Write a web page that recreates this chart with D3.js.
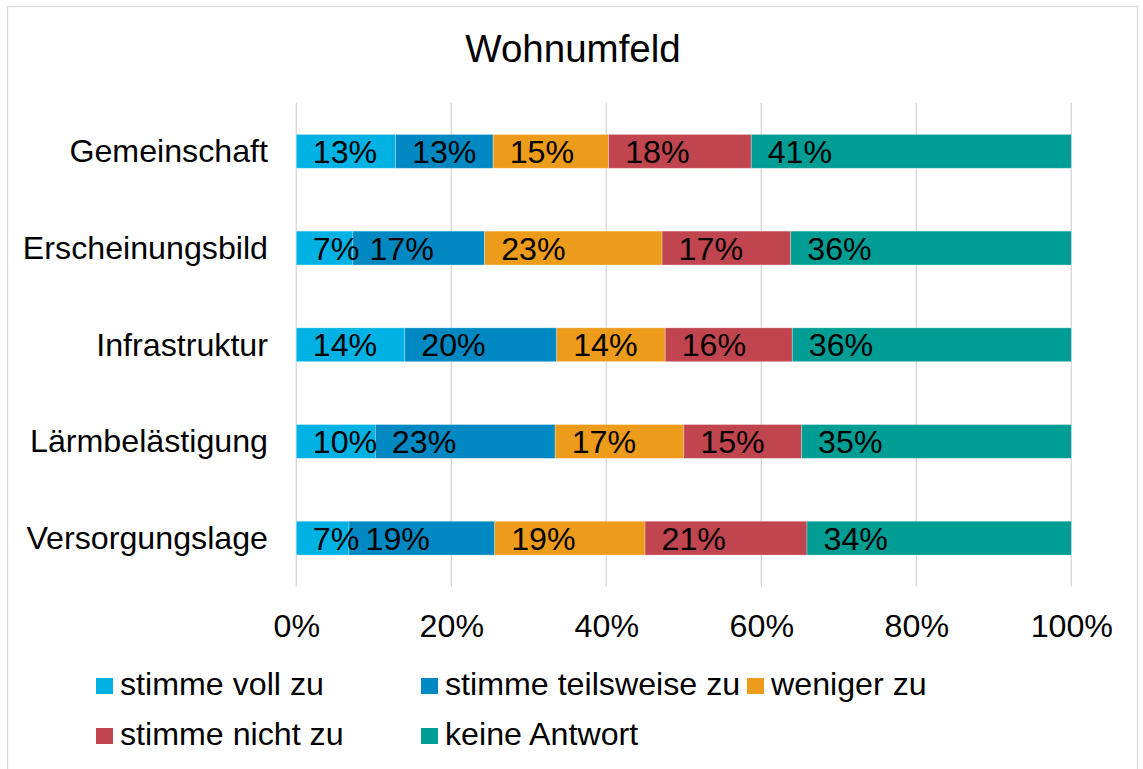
<!DOCTYPE html>
<html lang="de">
<head>
<meta charset="utf-8">
<title>Wohnumfeld</title>
<script src="https://cdn.jsdelivr.net/npm/d3@7"></script>
<style>
  html, body { margin: 0; padding: 0; background: #ffffff; }
  svg { display: block; font-family: "Liberation Sans", Arial, sans-serif; }
</style>
</head>
<body>
<svg id="chart" width="1143" height="769"></svg>
<script>
// Survey categories (top to bottom)
const categories = ["Gemeinschaft", "Erscheinungsbild", "Infrastruktur", "Lärmbelästigung", "Versorgungslage"];

// Answer options, in stacking order
const seriesNames = ["stimme voll zu", "stimme teilsweise zu", "weniger zu", "stimme nicht zu", "keine Antwort"];

// Share of answers per category, in percent
const stimmeVoll      = [12.8,  7.3, 14.0, 10.2,  6.8];
const stimmeTeilweise = [12.6, 17.0, 19.6, 23.2, 18.8];
const wenigerZu       = [14.9, 22.9, 14.0, 16.6, 19.4];
const stimmeNicht     = [18.4, 16.6, 16.4, 15.2, 20.9];
const keineAntwort    = [41.3, 36.2, 36.0, 34.8, 34.1];

// Axis ticks
const tickValues = [0, 20, 40, 60, 80, 100];
const tickLabels = ["0%", "20%", "40%", "60%", "80%", "100%"];

const colors = ["#00b2e3", "#0088c2", "#ec9b1a", "#c0454f", "#009d94"];

const seriesValues = [stimmeVoll, stimmeTeilweise, wenigerZu, stimmeNicht, keineAntwort];
const rows = categories.map((c, i) => {
  const r = { category: c };
  seriesNames.forEach((s, k) => { r[s] = seriesValues[k][i]; });
  return r;
});

const svg = d3.select("#chart");
const fontSize = 32.2;

// Outer frame
svg.append("rect")
  .attr("x", 7.5).attr("y", 6.5)
  .attr("width", 1130).attr("height", 800)
  .attr("fill", "#ffffff")
  .attr("stroke", "#d9d9d9").attr("stroke-width", 1.3);

// Title
svg.append("text")
  .attr("x", 573).attr("y", 61.5)
  .attr("text-anchor", "middle")
  .attr("font-size", 38.5)
  .attr("fill", "#000")
  .text("Wohnumfeld");

const x = d3.scaleLinear().domain([0, 100]).range([296.3, 1071.3]);
const y = d3.scaleBand().domain(categories).range([103, 586.5])
  .paddingInner(0.65).paddingOuter(0.325);

// Vertical gridlines
const grid = svg.append("g").attr("class", "grid");
grid.selectAll("line").data(tickValues).join("line")
  .attr("x1", d => x(d)).attr("x2", d => x(d))
  .attr("y1", 103).attr("y2", 586.5)
  .attr("stroke", "#d9d9d9").attr("stroke-width", 1.4);

// Stacked bars
const stack = d3.stack().keys(seriesNames);
const layers = stack(rows);

const layerG = svg.append("g").selectAll("g").data(layers).join("g")
  .attr("fill", (d, i) => colors[i]);

layerG.selectAll("rect").data(d => d).join("rect")
  .attr("x", d => x(d[0]))
  .attr("y", d => y(d.data.category))
  .attr("width", d => x(d[1]) - x(d[0]))
  .attr("height", y.bandwidth())
  .attr("stroke", "#ffffff").attr("stroke-opacity", 0.35).attr("stroke-width", 0.8);

// Value labels at the inside base of each segment
const fmt = d3.format(".0f");
const labelG = svg.append("g").selectAll("g").data(layers).join("g");
labelG.selectAll("text").data(d => d.map(p => ({ p, key: d.key }))).join("text")
  .attr("x", d => x(d.p[0]) + 16.5)
  .attr("y", d => y(d.p.data.category) + y.bandwidth() / 2)
  .attr("dy", "0.36em")
  .attr("font-size", fontSize)
  .attr("fill", "#000")
  .text(d => fmt(d.p.data[d.key]) + "%");

// Category labels
svg.append("g").selectAll("text").data(categories).join("text")
  .attr("x", 268)
  .attr("y", d => y(d) + y.bandwidth() / 2)
  .attr("dy", "0.34em")
  .attr("text-anchor", "end")
  .attr("font-size", fontSize)
  .attr("fill", "#000")
  .text(d => d);

// X axis tick labels
const xAxis = d3.axisBottom(x)
  .tickValues(tickValues)
  .tickFormat((d, i) => tickLabels[i])
  .tickSize(0).tickPadding(0);
const axisG = svg.append("g").attr("transform", "translate(0,614)").call(xAxis);
axisG.select(".domain").remove();
axisG.selectAll("text")
  .attr("font-size", fontSize)
  .attr("font-family", "'Liberation Sans', Arial, sans-serif")
  .attr("fill", "#000")
  .attr("y", 0).attr("dy", "0.72em");

// Legend (three columns, wrapping)
const legendX = [96, 421, 747];
const legendBase = [695, 745];
const legend = svg.append("g").selectAll("g").data(seriesNames).join("g")
  .attr("transform", (d, i) => `translate(${legendX[i % 3]},${legendBase[Math.floor(i / 3)]})`);
legend.append("rect")
  .attr("x", 0).attr("y", -17)
  .attr("width", 17).attr("height", 16)
  .attr("fill", (d, i) => colors[i]);
legend.append("text")
  .attr("x", 24).attr("y", 0)
  .attr("font-size", fontSize)
  .attr("fill", "#000")
  .text(d => d);
</script>
</body>
</html>
